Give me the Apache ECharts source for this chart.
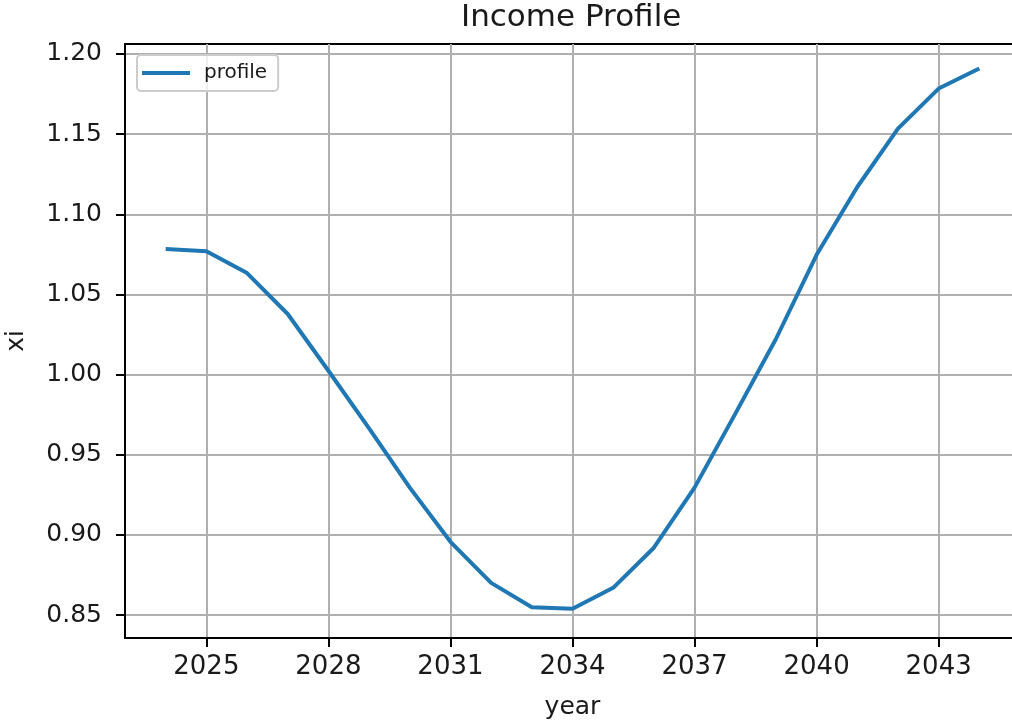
<!DOCTYPE html>
<html>
<head>
<meta charset="utf-8">
<title>Income Profile</title>
<script src="https://cdn.jsdelivr.net/npm/echarts@6/dist/echarts.min.js"></script>
<style>
  html, body { margin: 0; padding: 0; background: #fff; }
  #chart { width: 1012px; height: 725px; }
</style>
</head>
<body>
<div id="chart"></div>
<script>
// data
var years = [2024, 2025, 2026, 2027, 2028, 2029, 2030, 2031, 2032, 2033, 2034,
             2035, 2036, 2037, 2038, 2039, 2040, 2041, 2042, 2043, 2044];
var xi = [1.0784, 1.0770, 1.0633, 1.0378, 1.0024, 0.9664, 0.9295, 0.8957, 0.8701, 0.8549, 0.8539,
          0.8670, 0.8920, 0.9295, 0.9755, 1.0222, 1.0747, 1.1170, 1.1534, 1.1784, 1.1909];
var xTicks = [2025, 2028, 2031, 2034, 2037, 2040, 2043];
var yTicks = [0.85, 0.90, 0.95, 1.00, 1.05, 1.10, 1.15, 1.20];

(function() {
  var ink = '#1a1a1a';
  var grid = '#b0b0b0';
  var blue = '#1f77b4';

  var points = years.map(function(y, i) { return [y, xi[i]]; });

  var chart = echarts.init(document.getElementById('chart'), null, { renderer: 'canvas' });
  chart.setOption({
    animation: false,
    backgroundColor: '#fff',
    textStyle: { fontFamily: 'DejaVu Sans' },
    title: {
      text: 'Income Profile',
      left: 461, top: 2, padding: 0,
      textStyle: { fontSize: 31, fontWeight: 'normal', color: ink, fontFamily: 'DejaVu Sans' }
    },
    legend: {
      data: [{ name: 'profile', icon: 'rect' }],
      left: 137, top: 55,
      padding: [8, 11, 8, 5],
      itemWidth: 48, itemHeight: 4,
      backgroundColor: 'rgba(255,255,255,0.8)',
      borderColor: '#cccccc', borderWidth: 2, borderRadius: 4,
      textStyle: { fontSize: 20, color: ink, padding: [0, 0, 0, 9] }
    },
    grid: {
      left: 125, top: 44, width: 895, height: 594,
      outerBoundsMode: 'none', containLabel: false,
      show: true, borderColor: '#000', borderWidth: 2
    },
    xAxis: {
      type: 'value', min: 2023, max: 2045,
      name: 'year', nameLocation: 'middle', nameGap: 57,
      nameTextStyle: { fontSize: 25, color: ink },
      axisLine: { lineStyle: { color: '#000', width: 2 } },
      axisTick: { customValues: xTicks, length: 9, lineStyle: { color: '#000', width: 2 } },
      axisLabel: {
        customValues: xTicks, fontSize: 26, color: ink, margin: 16,
        formatter: function(v) { return String(v); }
      },
      splitLine: { show: true, lineStyle: { color: grid, width: 2 } }
    },
    yAxis: {
      type: 'value', min: 0.8357, max: 1.2062,
      name: 'xi', nameLocation: 'middle', nameGap: 96,
      nameTextStyle: { fontSize: 25, color: ink },
      axisLine: { show: true, lineStyle: { color: '#000', width: 2 } },
      axisTick: { show: true, customValues: yTicks, length: 9, lineStyle: { color: '#000', width: 2 } },
      axisLabel: {
        customValues: yTicks, fontSize: 25, color: ink, margin: 23,
        formatter: function(v) { return v.toFixed(2); }
      },
      splitLine: { show: true, lineStyle: { color: grid, width: 2 } }
    },
    series: [{
      name: 'profile',
      type: 'line',
      data: points,
      symbol: 'none',
      lineStyle: { color: blue, width: 4 },
      itemStyle: { color: blue }
    }]
  });
  window.addEventListener('resize', function() { chart.resize(); });
})();
</script>
</body>
</html>
